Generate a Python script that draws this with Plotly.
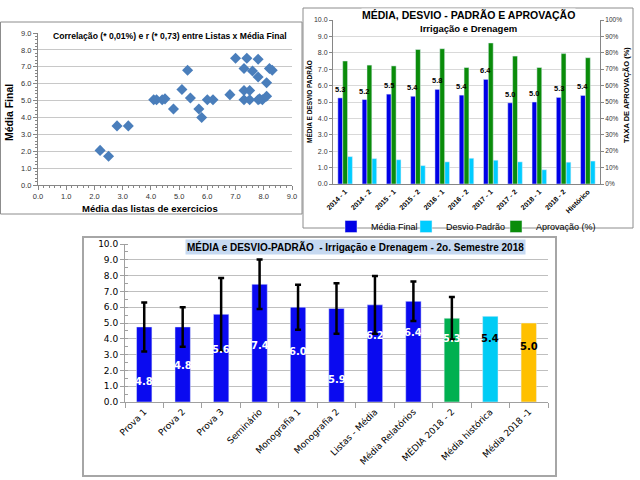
import plotly.graph_objects as go

# ---------------- Data ----------------
# Panel 1: scatter (Média das listas x Média Final)
lista_media = [2.2, 2.5, 2.8, 3.2, 4.1, 4.2, 4.4, 4.5, 4.8, 5.1, 5.3, 5.4, 5.7, 5.8,
               6.0, 6.2, 6.8, 7.0, 7.3, 7.3, 7.3, 7.4, 7.5, 7.5, 7.6, 7.8, 7.8, 7.8,
               7.85, 7.95, 8.1, 8.1, 8.2, 8.3]
media_final = [2.05, 1.7, 3.5, 3.5, 5.05, 5.05, 5.05, 5.1, 4.5, 5.65, 6.8, 5.15, 4.5, 4.0,
               5.05, 5.05, 5.35, 7.5, 6.9, 5.6, 5.05, 7.5, 5.6, 5.05, 6.75, 7.45, 6.4, 5.05,
               5.1, 5.05, 6.05, 5.25, 6.9, 6.8]

# Panel 2: semesters
semestres = ["2014 - 1", "2014 - 2", "2015 - 1", "2015 - 2", "2016 - 1", "2016 - 2",
             "2017 - 1", "2017 - 2", "2018 - 1", "2018 - 2", "Histórico"]
sem_media = [5.25, 5.15, 5.48, 5.35, 5.77, 5.42, 6.38, 4.95, 5.0, 5.28, 5.4]
sem_media_lbl = ["5.3", "5.2", "5.5", "5.4", "5.8", "5.4", "6.4", "5.0", "5.0", "5.3", "5.4"]
sem_desvio = [1.67, 1.55, 1.48, 1.12, 1.35, 1.57, 1.45, 1.35, 0.87, 1.33, 1.4]
sem_aprov = [75, 72.5, 72, 82, 82.5, 71, 86, 78, 71, 79.5, 77]

# Panel 3: 2o semestre 2018
avaliacoes = ["Prova 1", "Prova 2", "Prova 3", "Seminário", "Monografia 1", "Monografia 2",
              "Listas - Média", "Média Relatórios", "MÉDIA 2018 - 2", "Média histórica",
              "Média 2018 -1"]
aval_media = [4.75, 4.75, 5.55, 7.45, 6.0, 5.92, 6.15, 6.37, 5.3, 5.42, 5.0]
aval_lbl = ["4.8", "4.8", "5.6", "7.4", "6.0", "5.9", "6.2", "6.4", "5.3", "5.4", "5.0"]
# standard deviations (only the first nine categories have one)
aval_desvio = [1.55, 1.25, 2.3, 1.57, 1.42, 1.6, 1.83, 1.25, 1.35]

# label heights (style/position, not data)
aval_lbl_y = [1.3, 2.3, 3.3, 3.6, 3.2, 1.4, 4.2, 4.4, 4.0, 4.0, 3.5]
aval_colors = ["#0a0af0"] * 8 + ["#00b050", "#00ccf5", "#ffc000"]
aval_lbl_colors = ["white"] * 9 + ["black", "black"]

W, H = 640, 480
def px(x): return x / W
def py(y): return 1 - y / H

ARIAL = "Liberation Sans, Arial, sans-serif"
VERD = "DejaVu Sans, Verdana, sans-serif"

fig = go.Figure()

# ---------- Panel 1 ----------
fig.add_trace(go.Scatter(x=lista_media, y=media_final, mode="markers",
                         marker=dict(symbol="diamond", size=8.5, color="#4a7ebb"),
                         xaxis="x", yaxis="y", showlegend=False))

# ---------- Panel 2 ----------
fig.add_trace(go.Bar(x=semestres, y=sem_media, name="Média Final", marker_color="#0000e6",
                     width=0.2, offset=-0.3, xaxis="x2", yaxis="y2", legend="legend"))
fig.add_trace(go.Bar(x=semestres, y=sem_desvio, name="Desvio Padrão", marker_color="#00ccff",
                     width=0.2, offset=0.1, xaxis="x2", yaxis="y2", legend="legend2"))
fig.add_trace(go.Bar(x=semestres, y=sem_aprov, name="Aprovação (%)", marker_color="#0a8c0a",
                     width=0.2, offset=-0.1, xaxis="x2", yaxis="y3", legend="legend3"))

# ---------- Panel 3 ----------
n_err = len(aval_desvio)
fig.add_trace(go.Bar(x=avaliacoes[:n_err], y=aval_media[:n_err], marker_color=aval_colors[:n_err],
                     width=0.4,
                     error_y=dict(type="data", array=aval_desvio, visible=True,
                                  color="black", thickness=2.5, width=3),
                     xaxis="x4", yaxis="y4", showlegend=False))
fig.add_trace(go.Bar(x=avaliacoes[n_err:], y=aval_media[n_err:], marker_color=aval_colors[n_err:],
                     width=0.4, xaxis="x4", yaxis="y4", showlegend=False))

annotations = []
# panel 2 labels
for c, v, t in zip(semestres, sem_media, sem_media_lbl):
    annotations.append(dict(x=c, y=v, xref="x2", yref="y2", text=t, showarrow=False,
                            xshift=-5, xanchor="center", yanchor="bottom", yshift=2,
                            font=dict(family=ARIAL, size=7.5, color="black", weight="bold")))
# panel 3 labels
for c, ly, t, col in zip(avaliacoes, aval_lbl_y, aval_lbl, aval_lbl_colors):
    annotations.append(dict(x=c, y=ly, xref="x4", yref="y4", text=t, showarrow=False,
                            xanchor="center", yanchor="middle",
                            font=dict(family=VERD, size=10, color=col, weight="bold")))

def pann(x, y, text, size, bold=True, angle=0, bg=None, pad=0, color="black", family=ARIAL):
    d = dict(x=px(x), y=py(y), xref="paper", yref="paper", showarrow=False, text=text,
             xanchor="center", yanchor="middle", textangle=angle, borderpad=pad,
             font=dict(family=family, size=size, color=color,
                       weight="bold" if bold else "normal"))
    if bg:
        d["bgcolor"] = bg
    return d

# titles / axis titles
annotations += [
    pann(170, 35.5, "Correlação (* 0,01%) e r (* 0,73) entre Listas x Média Final", 8.6, bg="white"),
    pann(9, 113, "Média Final", 10.5, angle=-90),
    pann(150, 208, "Média das listas de exercicios", 9.5),
    pann(468, 15, "MÉDIA, DESVIO - PADRÃO E APROVAÇÃO", 10.5, bg="white"),
    pann(468, 28, "Irrigação e Drenagem", 9.5, bg="white"),
    pann(309, 102, "MÉDIA E DESVIO PADRÃO", 6.5, angle=-90),
    pann(627, 95, "TAXA DE APROVAÇÃO (%)", 7.5, angle=-90),
    pann(355.5, 246.5, "MÉDIA e DESVIO-PADRÃO  - Irrigação e Drenagem - 2o. Semestre 2018", 10,
         bg="#c6d9f1", pad=1),
]

shapes = [
    dict(type="rect", xref="paper", yref="paper", x0=px(0.5), x1=px(302), y0=py(214), y1=py(22),
         line=dict(color="#8c8c8c", width=1), layer="below"),
    dict(type="rect", xref="paper", yref="paper", x0=px(303), x1=px(633), y0=py(228), y1=py(8),
         line=dict(color="#8c8c8c", width=1), layer="below"),
    dict(type="rect", xref="paper", yref="paper", x0=px(83), x1=px(556), y0=py(476), y1=py(237),
         line=dict(color="#a6a6a6", width=2), layer="below"),
]

tick_small = dict(family=ARIAL, size=7.5, color="#333333")

def leg(x, ew):
    return dict(orientation="h", x=px(x), y=py(212), xanchor="left", yanchor="top",
                font=dict(family=ARIAL, size=9, color="black"), itemwidth=30,
                entrywidth=ew, entrywidthmode="pixels",
                bgcolor="rgba(0,0,0,0)")

fig.update_layout(
    width=W, height=H, margin=dict(l=0, r=0, t=0, b=0, autoexpand=False),
    paper_bgcolor="white", plot_bgcolor="white", barmode="overlay",
    annotations=annotations, shapes=shapes,
    legend=leg(331, 52), legend2=leg(406, 66), legend3=leg(496, 68),
    # panel 1
    xaxis=dict(domain=[px(38), px(292)], anchor="y", range=[0, 9], dtick=1, tickformat=".1f",
               automargin=False,
               showgrid=False, zeroline=False, showline=True, linecolor="#868686",
               ticks="outside", ticklen=4, tickcolor="#868686", tickfont=tick_small,
               minor=dict(dtick=0.2, ticks="outside", ticklen=2, tickcolor="#868686")),
    yaxis=dict(domain=[py(185), py(33)], anchor="x", range=[0, 9], dtick=1, tickformat=".1f",
               automargin=False,
               showgrid=True, gridcolor="#c8c8c8", zeroline=False, showline=True,
               linecolor="#868686", ticks="outside", ticklen=4, tickcolor="#868686",
               tickfont=tick_small,
               minor=dict(dtick=0.2, ticks="outside", ticklen=2, tickcolor="#868686")),
    # panel 2
    xaxis2=dict(domain=[px(333), px(600)], anchor="y2", type="category", tickangle=-45,
                automargin=False,
                showline=True, linecolor="#868686", ticks="", showgrid=False,
                tickfont=dict(family=ARIAL, size=7, color="black", weight="bold")),
    yaxis2=dict(domain=[py(184), py(20)], anchor="x2", range=[0, 10], dtick=1, tickformat=".1f",
                automargin=False,
                showgrid=True, gridcolor="#d9d9d9", zeroline=False, showline=True,
                linecolor="#868686", ticks="outside", ticklen=3, tickcolor="#868686",
                tickfont=dict(family=ARIAL, size=7, color="#333333")),
    yaxis3=dict(overlaying="y2", anchor="x2", side="right", range=[0, 100], dtick=10,
                automargin=False,
                ticksuffix="%", showgrid=False, zeroline=False, showline=True,
                linecolor="#868686", ticks="outside", ticklen=3, tickcolor="#868686",
                tickfont=dict(family=ARIAL, size=6.5, color="#333333")),
    # panel 3
    xaxis4=dict(domain=[px(125), px(548)], anchor="y4", type="category", tickangle=-45,
                automargin=False,
                showline=True, linecolor="#a0a0a0", ticks="outside", tickson="boundaries",
                ticklen=5, tickcolor="#a0a0a0", showgrid=False,
                tickfont=dict(family=VERD, size=9, color="black")),
    yaxis4=dict(domain=[py(402), py(244)], anchor="x4", range=[0, 10], dtick=1,
                automargin=False,
                tickformat=".1f", showgrid=True, gridcolor="#bfbfbf", zeroline=False,
                showline=True, linecolor="#a0a0a0", ticks="outside", ticklen=4,
                tickcolor="#a0a0a0", tickfont=dict(family=VERD, size=9, color="black"),
                minor=dict(dtick=0.5, ticks="inside", ticklen=3, tickcolor="#a0a0a0")),
)

# remove the browser's default 8px page margin so the 640x480 figure fills the window
fig.write_html("out.html", config={"displayModeBar": False},
               post_script="document.body.style.margin='0px';document.body.style.overflow='hidden';")
